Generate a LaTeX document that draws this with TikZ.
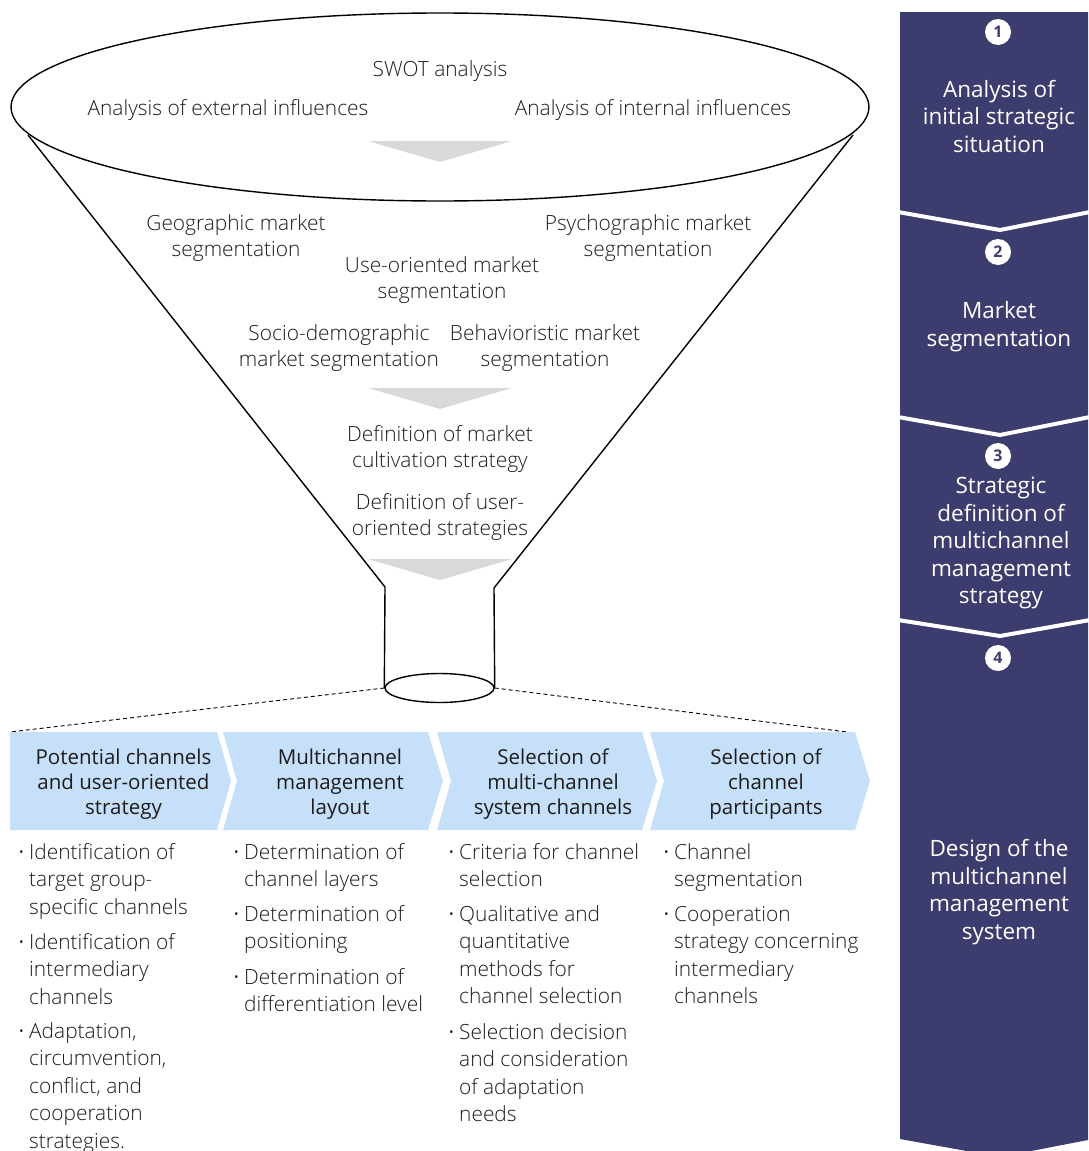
\documentclass[tikz,border=0pt]{standalone}
\usepackage{fontspec}
\setmainfont{Open Sans}
\newfontfamily\lightfont{Open Sans Light}
\usetikzlibrary{shapes.geometric}
\definecolor{navy}{RGB}{61,60,110}
\definecolor{chevblue}{RGB}{199,224,250}
\definecolor{arrowgray}{RGB}{217,217,217}
\definecolor{txt}{RGB}{28,28,28}
\begin{document}
\begin{tikzpicture}[x=1pt,y=-1pt,
  funneltext/.style={font=\lightfont\fontsize{20.9}{25.5}\selectfont, align=center, text=txt, inner sep=0pt},
  headtext/.style={font=\fontsize{20.5}{25}\selectfont, align=center, text=txt, inner sep=0pt},
  itemtext/.style={font=\lightfont\fontsize{20.9}{27.5}\selectfont, align=left, anchor=north west, text=txt, inner sep=0pt},
  sidetext/.style={font=\fontsize{22.5}{27.5}\selectfont, align=center, text=white, inner sep=0pt},
  numcirc/.style={circle, fill=white, minimum size=26pt, inner sep=0pt, font=\bfseries\fontsize{16}{16}\selectfont, text=navy},
  funnelline/.style={line width=1.4pt, black},
  chev/.style={fill=chevblue},
  downarrow/.style={fill=arrowgray},
  sep/.style={draw=white, line width=4pt}
]
\useasboundingbox (0,0) rectangle (1088,1151);

% ---------- right-hand phase bar ----------
\fill[navy] (900,12) -- (1088,12) -- (1088,1140) -- (1000,1157) -- (900,1139) -- cycle;
\draw[sep] (898,212) -- (1000,230) -- (1090,212);
\draw[sep] (898,417) -- (1000,435) -- (1090,417);
\draw[sep] (898,620) -- (1000,636) -- (1090,620);

\node[numcirc] (n1) at (998,32) {1};
\node[numcirc] (n2) at (998,252) {2};
\node[numcirc] (n3) at (998,456) {3};
\node[numcirc] (n4) at (998,658) {4};

\node[sidetext] (p1) at (999,116.5) {Analysis of\\initial strategic\\situation};
\node[sidetext] (p2) at (999,326.5) {Market\\segmentation};
\node[sidetext] (p3) at (1001,543) {Strategic\\definition of\\multichannel\\management\\strategy};
\node[sidetext] (p4) at (999,892) {Design of the\\multichannel\\management\\system};

% ---------- funnel ----------
\node[draw, funnelline, ellipse, minimum width=858pt, minimum height=188pt, inner sep=0pt] (top) at (440,107) {};
\coordinate (tl) at (28,135);
\coordinate (tr) at (853,135);
\coordinate (nl) at (385,587);
\coordinate (nr) at (494,588);
\node[draw, funnelline, ellipse, minimum width=109pt, minimum height=29pt, inner sep=0pt] (neck) at (439.5,688) {};
\draw[funnelline] (tl) -- (nl) -- (neck.west);
\draw[funnelline] (tr) -- (nr) -- (neck.east);

\fill[downarrow] (368,141) -- (512,141) -- (440,162) -- cycle;
\fill[downarrow] (368,388) -- (512,388) -- (440,409) -- cycle;
\fill[downarrow] (368,559) -- (512,559) -- (440,580) -- cycle;

\node[funneltext] (swot) at (440,71) {SWOT analysis};
\node[funneltext] (ext) at (228,110) {Analysis of external influences};
\node[funneltext] (int) at (653,110) {Analysis of internal influences};
\node[funneltext] (geo) at (236,238) {Geographic market\\segmentation};
\node[funneltext] (psy) at (648,238) {Psychographic market\\segmentation};
\node[funneltext] (use) at (442,280) {Use-oriented market\\segmentation};
\node[funneltext] (soc) at (339,348) {Socio-demographic\\market segmentation};
\node[funneltext] (beh) at (545,348) {Behavioristic market\\segmentation};
\node[funneltext] (cult) at (440,449) {Definition of market\\cultivation strategy};
\node[funneltext] (user) at (440,517) {Definition of user-\\oriented strategies};

% ---------- zoom lines to the process row ----------
\coordinate (zl) at (10,732);
\coordinate (zr) at (855,733);
\draw[line width=0.9pt, dash pattern=on 4pt off 3pt] (neck.west) -- (zl);
\draw[line width=0.9pt, dash pattern=on 4pt off 3pt] (neck.east) -- (zr);

% ---------- process chevrons ----------
\fill[chev] (10,732) -- (217,732) -- (231,781) -- (217,830) -- (10,830) -- cycle;
\fill[chev] (223,732) -- (428,732) -- (443,781) -- (428,830) -- (223,830) -- (237,781) -- cycle;
\fill[chev] (437,732) -- (642,732) -- (657,781) -- (642,830) -- (437,830) -- (451,781) -- cycle;
\fill[chev] (650,732) -- (855,732) -- (870,781) -- (855,830) -- (650,830) -- (664,781) -- cycle;

\node[headtext] (h1) at (123.5,784) {Potential channels\\and user-oriented\\strategy};
\node[headtext] (h2) at (340,784) {Multichannel\\management\\layout};
\node[headtext] (h3) at (553,784) {Selection of\\multi-channel\\system channels};
\node[headtext] (h4) at (766,784) {Selection of\\channel\\participants};

% ---------- task lists ----------
\newcommand{\bul}{\strut\llap{{\fontspec{Open Sans}·}\hspace{5pt}}}
\node[itemtext] (a1) at (29,840) {\bul Identification of\\target group-\\specific channels};
\node[itemtext] (a2) at (29,930) {\bul Identification of\\intermediary\\channels};
\node[itemtext] (a3) at (29,1019) {\bul Adaptation,\\circumvention,\\conflict, and\\cooperation\\strategies.};

\node[itemtext] (b1) at (244,840) {\bul Determination of\\channel layers};
\node[itemtext] (b2) at (244,902) {\bul Determination of\\positioning};
\node[itemtext] (b3) at (244,965) {\bul Determination of\\differentiation level};

\node[itemtext] (c1) at (459,840) {\bul Criteria for channel\\selection};
\node[itemtext] (c2) at (459,902) {\bul Qualitative and\\quantitative\\methods for\\channel selection};
\node[itemtext] (c3) at (459,1020) {\bul Selection decision\\and consideration\\of adaptation\\needs};

\node[itemtext] (d1) at (674,840) {\bul Channel\\segmentation};
\node[itemtext] (d2) at (674,902) {\bul Cooperation\\strategy concerning\\intermediary\\channels};
\end{tikzpicture}
\end{document}
